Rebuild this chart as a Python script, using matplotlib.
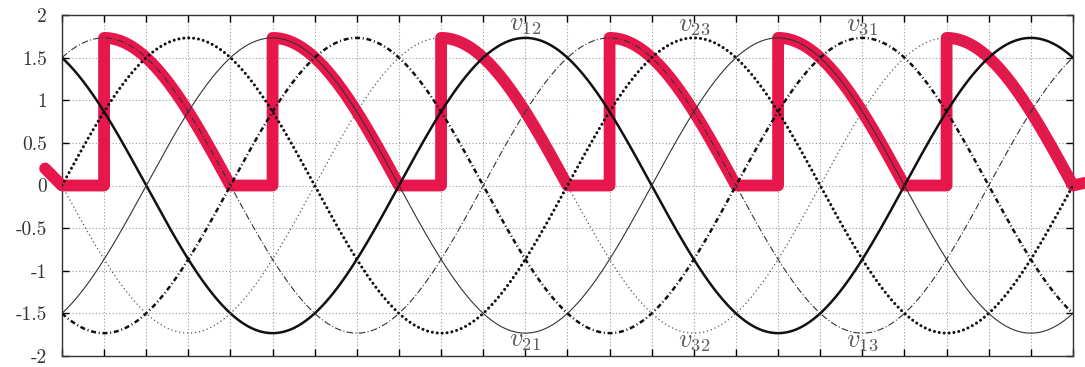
import numpy as np
import matplotlib
matplotlib.use("Agg")
import matplotlib.pyplot as plt

plt.rcParams['mathtext.fontset'] = 'cm'
plt.rcParams['font.family'] = ['cmr10', 'DejaVu Serif']
plt.rcParams['axes.unicode_minus'] = False

# line voltages: amplitude and phase (degrees)
amp = 1.732
names = ['v_{12}', 'v_{23}', 'v_{31}', 'v_{21}', 'v_{32}', 'v_{13}']
phases = [120, 0, -120, 300, 180, 60]
widths = [1.8, 2.2, 1.8, 0.8, 0.9, 0.8]
colors = ['#111111', '#111111', '#111111', '#333333', '#555555', '#333333']
styles = ['-', (0, (0.01, 1.6)), (0, (2.0, 1.1, 0.4, 1.1)), '-', (0, (1, 2.2)), (0, (6, 2, 1, 2))]
label_x = [330, 450, 570, 330, 450, 570]
label_y = [1.88, 1.88, 1.88, -1.82, -1.82, -1.82]

# red rectified output: firing and extinction angles (deg)
fire = [30, 150, 270, 390, 510, 630]
ext = [120, 240, 360, 480, 600, 720]
tail_left = ([-12, 0], [0.2, 0.0])
tail_right = ([720, 728], [0.0, 0.03])

yticks = [-2, -1.5, -1, -0.5, 0, 0.5, 1, 1.5, 2]
ytick_labels = ['-2', '-1.5', '-1', '-0.5', '0', '0.5', '1', '1.5', '2']

fig = plt.figure(figsize=(10.85, 3.67), dpi=100)
ax = fig.add_axes([0.0571, 0.030, 0.9318, 0.929])

th = np.linspace(0, 720, 2000)
for i in range(6):
    ln, = ax.plot(th, amp * np.sin(np.radians(th + phases[i])), color=colors[i],
                  lw=widths[i], linestyle=styles[i], zorder=4)
    if i == 1:
        ln.set_dash_capstyle('round')
    ax.text(label_x[i], label_y[i], '$' + names[i] + '$', ha='center', va='center',
            fontsize=19, color='#5a5a5a', zorder=6)

# red curve built from firing points
rx = list(tail_left[0])
ry = list(tail_left[1])
prev = 0
for f, e in zip(fire, ext):
    rx += [prev, f]
    ry += [0.0, 0.0]
    seg = np.linspace(f, e, 120)
    rx += list(seg)
    ry += list(amp * np.sin(np.radians(seg - f + 90)))
    prev = e
rx += tail_right[0]
ry += tail_right[1]
ax.plot(rx, ry, color='#e8174b', lw=8.5, solid_joinstyle='round',
        solid_capstyle='round', zorder=3, clip_on=False)

ax.set_xlim(0, 720)
ax.set_ylim(-2, 2)
ax.set_xticks(np.arange(0, 721, 30))
ax.set_xticklabels([])
ax.set_yticks(yticks)
ax.set_yticklabels(ytick_labels, fontsize=14, color='#333333')
ax.tick_params(direction='in', length=5, width=1, top=True, right=True, pad=11)
ax.tick_params(axis='y', labelleft=True)
ax.grid(True, color='#999999', linestyle=(0, (1, 2)), lw=0.8)
for s in ax.spines.values():
    s.set_color('#333333')
    s.set_linewidth(1.0)

fig.savefig('out.png', dpi=100)
